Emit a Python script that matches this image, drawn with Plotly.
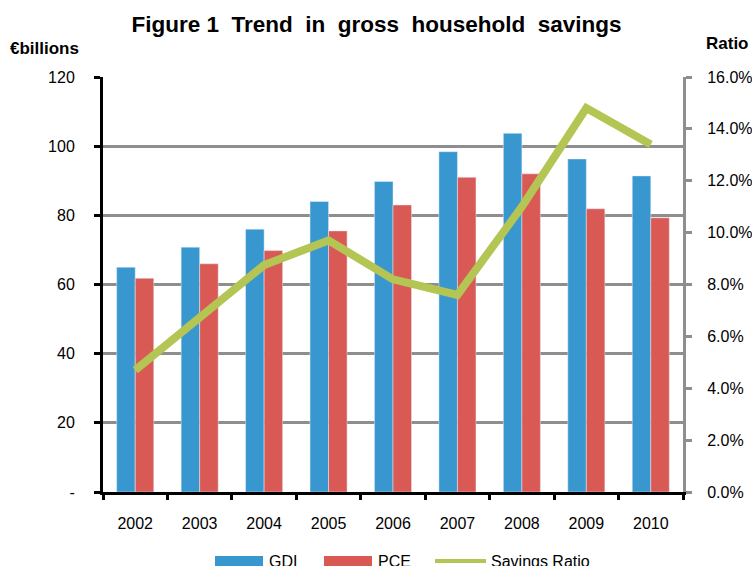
import plotly.graph_objects as go

# Data
years = ["2002", "2003", "2004", "2005", "2006", "2007", "2008", "2009", "2010"]
gdi = [65.0, 70.8, 76.0, 84.0, 89.8, 98.4, 103.7, 96.3, 91.4]
pce = [61.8, 66.0, 69.8, 75.5, 83.0, 91.0, 92.0, 81.9, 79.3]
savings_ratio = [0.047, 0.067, 0.0875, 0.097, 0.082, 0.076, 0.110, 0.148, 0.134]

left_ticks = [0, 20, 40, 60, 80, 100, 120]
left_ticktext = ["-", "20", "40", "60", "80", "100", "120"]

BLUE = "#3797CE"
RED = "#D95A55"
GREEN = "#B4C553"
GRID = "#8E8E8E"
FONT = "Liberation Sans, Arial, sans-serif"

W, H = 752, 566
ML, MR, MT, MB = 103, 69, 77, 74
PW, PH = W - ML - MR, H - MT - MB


def px_x(px):
    return (px - ML) / PW


def px_y(py):
    return (H - MB - py) / PH


fig = go.Figure()
fig.add_trace(go.Bar(x=years, y=gdi, name="GDI", marker=dict(color=BLUE), showlegend=False))
fig.add_trace(go.Bar(x=years, y=pce, name="PCE", marker=dict(color=RED), showlegend=False))
fig.add_trace(go.Scatter(x=years, y=savings_ratio, name="Savings Ratio", yaxis="y2",
                         mode="lines", line=dict(color=GREEN, width=8), showlegend=False))

fig.update_layout(
    width=W, height=H,
    margin=dict(l=ML, r=MR, t=MT, b=MB, pad=0, autoexpand=False),
    paper_bgcolor="white", plot_bgcolor="white",
    font=dict(family=FONT, size=16, color="black"),
    barmode="group", bargap=0.425, bargroupgap=0,
    title=dict(text="<b>Figure 1\u00a0 Trend\u00a0 in\u00a0 gross\u00a0 household\u00a0 savings</b>",
               x=px_x(376.5), xref="paper", xanchor="center", y=1 - 24 / H, yref="container",
               yanchor="middle", font=dict(size=22.5, family=FONT)),
    xaxis=dict(type="category", showline=True, linecolor="black", linewidth=3,
               ticks="outside", tickson="boundaries", ticklen=5, tickwidth=3, tickcolor="black",
               showgrid=False, ticklabelstandoff=15, tickfont=dict(size=16), automargin=False),
    yaxis=dict(range=[0, 120], tickvals=left_ticks, ticktext=left_ticktext,
               showline=True, linecolor="black", linewidth=3,
               ticks="outside", ticklen=6, tickwidth=3, tickcolor="black",
               showgrid=True, gridcolor=GRID, gridwidth=3, zeroline=False,
               ticklabelstandoff=16, tickfont=dict(size=16), automargin=False),
    yaxis2=dict(range=[0, 0.16], dtick=0.02, tickformat=".1%", overlaying="y", side="right",
                showline=True, linecolor=GRID, linewidth=3,
                ticks="outside", ticklen=6, tickwidth=3, tickcolor=GRID,
                showgrid=False, zeroline=False, ticklabelstandoff=12, tickfont=dict(size=16),
                automargin=False),
)

# Axis captions
fig.add_annotation(text="<b>€billions</b>", xref="paper", yref="paper", x=px_x(8), y=px_y(49),
                   xanchor="left", yanchor="middle", showarrow=False, font=dict(size=17))
fig.add_annotation(text="<b>Ratio</b>", xref="paper", yref="paper", x=px_x(704), y=px_y(44),
                   xanchor="left", yanchor="middle", showarrow=False, font=dict(size=17))

# Legend along the bottom edge
legend_y = 561
for (x0, x1, color, label) in [(215, 263, BLUE, "GDI"), (324, 372, RED, "PCE")]:
    fig.add_shape(type="rect", xref="paper", yref="paper", x0=px_x(x0), x1=px_x(x1),
                  y0=px_y(556), y1=px_y(567), fillcolor=color, line=dict(width=0))
    fig.add_annotation(text=label, xref="paper", yref="paper", x=px_x(x1 + 4), y=px_y(legend_y),
                       xanchor="left", yanchor="middle", showarrow=False, font=dict(size=16))
fig.add_shape(type="line", xref="paper", yref="paper", x0=px_x(435), x1=px_x(486),
              y0=px_y(legend_y), y1=px_y(legend_y), line=dict(color=GREEN, width=4))
fig.add_annotation(text="Savings Ratio", xref="paper", yref="paper", x=px_x(489), y=px_y(legend_y),
                   xanchor="left", yanchor="middle", showarrow=False, font=dict(size=16))

fig.write_html("out.html")
